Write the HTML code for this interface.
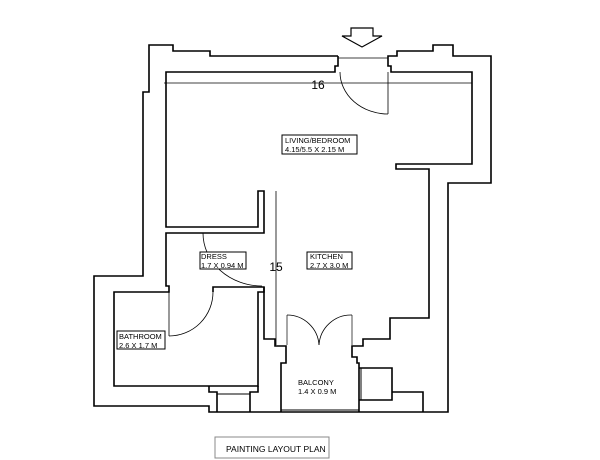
<!DOCTYPE html>
<html><head><meta charset="utf-8"><style>
html,body{margin:0;padding:0;background:#fff;}
svg{display:block;}
text{font-family:"Liberation Sans",sans-serif;fill:#000;}
</style></head><body>
<svg width="600" height="460" viewBox="0 0 600 460" xmlns="http://www.w3.org/2000/svg">
<g fill="none" stroke="#000" stroke-width="1.6">
<polyline points="338,56 210,56 210,51 173,51 173,45 149,45 149,92 143,92 143,276 94,276 94,406 209,406 209,412 448,412 448,183 491,183 491,56 453,56 453,45 433,45 433,51 397,51 397,56 388,56 388,66 391,66 391,72 472,72 472,164 396,164 396,169 429,169 429,318 390,318 390,339 363,339 363,346 352,346 352,357 357,357 357,363 359,363 359,412"/>
<polyline points="338,56 338,66 335,66 335,72 166,72 166,227 258,227 258,191 264,191 264,233 166,233 166,286 169,286 169,292 114,292 114,386 258,386 258,292 264,292 264,287 213,287 213,292"/>
<polyline points="264,287 264,339 275,339 275,346 286,346 286,363 281,363 281,412"/>
<polyline points="359,368 392,368 392,400 359,400"/>
<polyline points="392,392 423,392 423,412"/>
<line x1="361" y1="368" x2="361" y2="400" stroke-width="1"/>
<polyline points="209,386 209,392 217,392 217,412"/>
<polyline points="258,386 258,392 250,392 250,412"/>
<line x1="217" y1="394" x2="250" y2="394" stroke-width="1"/>
<line x1="281" y1="410" x2="359" y2="410" stroke-width="1"/>
</g>
<g fill="none" stroke="#000" stroke-width="0.8">
<line x1="338" y1="58" x2="388" y2="58"/>
<line x1="388" y1="72" x2="388" y2="114"/>
<path d="M340,72 A48,42 0 0 0 388,114"/>
<line x1="164" y1="83" x2="472" y2="83"/>
<line x1="276" y1="191" x2="276" y2="345"/>
<path d="M203,233 A59,53 0 0 0 262,286"/>
<path d="M213,292 A44,44 0 0 1 169,336"/>
<line x1="169" y1="292" x2="169" y2="336"/>
<line x1="287" y1="315" x2="287" y2="345" stroke-width="1.5" stroke="#888"/>
<line x1="352" y1="315" x2="352" y2="345" stroke-width="1.5" stroke="#888"/>
<path d="M287,315 A32,32 0 0 1 319,345"/>
<path d="M352,315 A32,32 0 0 0 319,345"/>
</g>
<polygon points="351,28 373,28 373,36 382,36 362,47 342,36 351,36" fill="#fff" stroke="#000" stroke-width="1.2"/>
<text x="318" y="89" font-size="12" text-anchor="middle">16</text>
<text x="276" y="271" font-size="12" text-anchor="middle">15</text>
<g font-size="7.5">
<rect x="282" y="135" width="75" height="19" fill="#fff" stroke="#000"/>
<text x="285" y="143">LIVING/BEDROOM</text><text x="285" y="152">4.15/5.5 X 2.15 M</text>
<rect x="200" y="252" width="46" height="17" fill="#fff" stroke="#000"/>
<text x="201" y="259">DRESS</text><text x="201" y="268">1.7 X 0.94 M</text>
<rect x="307" y="252" width="45" height="17" fill="#fff" stroke="#000"/>
<text x="310" y="259">KITCHEN</text><text x="310" y="268">2.7 X 3.0 M</text>
<rect x="117" y="331" width="48" height="18" fill="#fff" stroke="#000"/>
<text x="119" y="339">BATHROOM</text><text x="119" y="348">2.6 X 1.7 M</text>
<text x="298" y="385">BALCONY</text><text x="298" y="394">1.4 X 0.9 M</text>
</g>
<rect x="215" y="437" width="114" height="21" fill="#fff" stroke="#888"/>
<text x="226" y="452" font-size="8.5">PAINTING LAYOUT PLAN</text>
</svg>
</body></html>
